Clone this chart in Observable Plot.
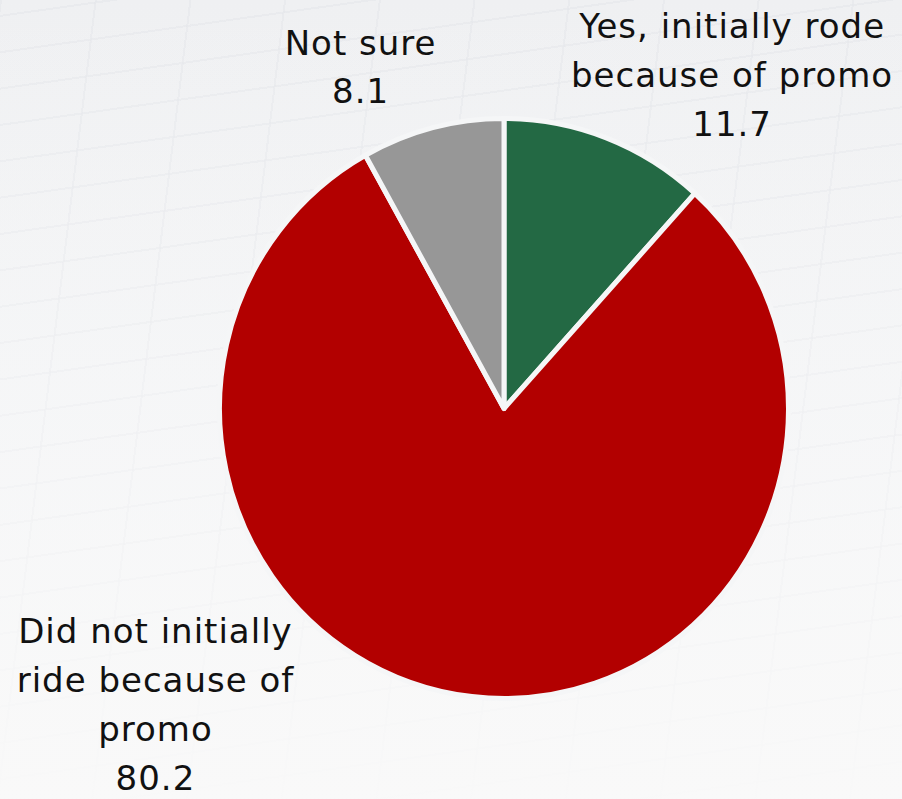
<!DOCTYPE html>
<html>
<head>
<meta charset="utf-8">
<script src="https://cdn.jsdelivr.net/npm/d3@7"></script>
<script src="https://cdn.jsdelivr.net/npm/@observablehq/plot@0.6"></script>
<style>
  html, body { margin: 0; padding: 0; width: 902px; height: 799px; overflow: hidden; }
  body {
    background-color: #f3f4f6;
    background-image:
      linear-gradient(to bottom, rgba(248,248,249,0) 0%, rgba(248,248,249,0.55) 55%, rgba(249,249,249,0.95) 100%),
      repeating-linear-gradient(97deg, rgba(228,230,234,0.55) 0 2px, rgba(0,0,0,0) 2px 94px),
      repeating-linear-gradient(-8deg, rgba(228,230,234,0.55) 0 2px, rgba(0,0,0,0) 2px 36px),
      linear-gradient(to bottom, #eff0f2 0%, #f4f5f6 60%, #f8f8f8 100%);
  }
  #chart svg { display: block; }
</style>
</head>
<body>
<div id="chart"></div>
<script>
// ---- Data ----
const categories = [
  "Yes, initially rode because of promo",
  "Did not initially ride because of promo",
  "Not sure"
];
const labelText = [
  "Yes, initially rode\nbecause of promo",
  "Did not initially\nride because of\npromo",
  "Not sure"
];
const values = [11.7, 80.2, 8.1];
const palette = ["#236944", "#b20000", "#979797"];

// ---- Derived table ----
const data = categories.map((c, i) => ({category: c, value: values[i], label: labelText[i] + "\n" + values[i].toFixed(1)}));

const color = Plot.scale({color: {type: "ordinal", domain: categories, range: palette}});

// geometry: pixel frame, pie centre and radii (pie is drawn in units of its radius)
const W = 902, H = 799, CX = 504, CY = 408.5, RX = 284.5, RY = 290;

// label placement relative to pie centre, in radius units
const labelPlacement = {
  [categories[0]]: {dx: 0.80, dy: 1.165},
  [categories[1]]: {dx: -1.227, dy: -1.005},
  [categories[2]]: {dx: -0.506, dy: 1.192}
};
const labels = data.map(d => ({...d, lx: labelPlacement[d.category].dx, ly: labelPlacement[d.category].dy}));

function pieMark(index, scales, channels, dimensions, context) {
  const cx = scales.x(0), cy = scales.y(0);
  const rx = scales.x(1) - scales.x(0);
  const ry = scales.y(0) - scales.y(1);
  const arcs = d3.pie().sort(null).value(d => d.value)(data);
  const arc = d3.arc().innerRadius(0).outerRadius(rx);
  const g = d3.create("svg:g").attr("transform", `translate(${cx},${cy}) scale(1,${ry / rx})`);
  g.selectAll("path")
    .data(arcs)
    .join("path")
    .attr("d", arc)
    .attr("fill", d => color.apply(d.data.category))
    .attr("stroke", "#f5f6f7")
    .attr("stroke-width", 5)
    .attr("stroke-linejoin", "round");
  return g.node();
}

const chart = Plot.plot({
  width: W,
  height: H,
  margin: 0,
  style: {background: "transparent", fontFamily: "DejaVu Sans", letterSpacing: "1px"},
  x: {domain: [-CX / RX, (W - CX) / RX], axis: null},
  y: {domain: [-(H - CY) / RY, CY / RY], axis: null},
  marks: [
    pieMark,
    Plot.text(labels, {
      x: "lx",
      y: "ly",
      text: "label",
      fontSize: 34,
      lineHeight: 1.44,
      lineAnchor: "middle",
      textAnchor: "middle",
      fill: "#111"
    })
  ]
});
document.getElementById("chart").appendChild(chart);
</script>
</body>
</html>
